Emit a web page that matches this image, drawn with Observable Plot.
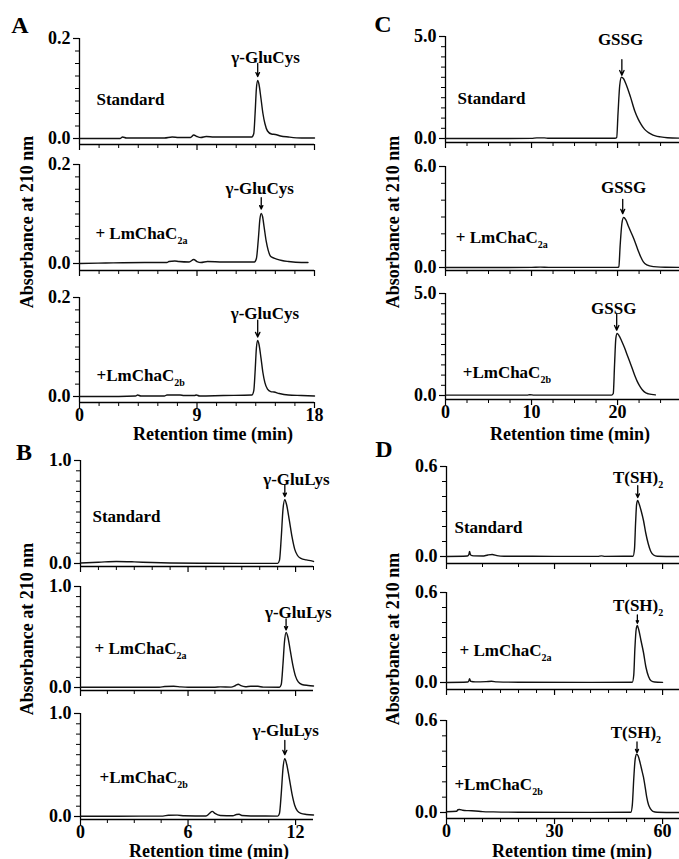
<!DOCTYPE html>
<html><head><meta charset="utf-8">
<script src="https://cdn.jsdelivr.net/npm/d3@7"></script>
<script src="https://cdn.jsdelivr.net/npm/@observablehq/plot@0.6"></script>
<style>
html,body{margin:0;padding:0;background:#fff;}
#fig{position:relative;width:679px;height:859px;overflow:hidden;font-family:"Liberation Serif","Times New Roman",serif;font-weight:bold;color:#000;}
.sub{position:absolute;}
.lbl{position:absolute;white-space:nowrap;line-height:0.9;}
</style></head><body><div id="fig"></div>
<script>
// ---------------- DATA ----------------
const panelNames = ["A", "B", "C", "D"];
const sampleNames = ["Standard", "+ LmChaC_{2a}", "+LmChaC_{2b}"];
const peakNames = {A: "γ-GluCys", B: "γ-GluLys", C: "GSSG", D: "T(SH)_{2}"};
const yTitle = "Absorbance at 210 nm";
const xTitle = "Retention time (min)";

// x-domain max (min) per panel, y-domain max per sub-chart
const xMax = {A: 18, B: 13, C: 27.2, D: 64.7};
const yMaxA = [0.2, 0.2, 0.2];
const yMaxB = [1.0, 1.0, 1.0];
const yMaxC = [5.0, 6.0, 5.0];
const yMaxD = [0.6, 0.6, 0.6];

// tick values
const xMajorA = [0, 9, 18];
const xMinorA = [1.5, 3, 4.5, 6, 7.5, 10.5, 12, 13.5, 15, 16.5];
const xMajorB = [0, 6, 12];
const xMinorB1 = [1, 2, 3, 4, 5, 7, 8, 9, 10, 11, 13];
const xMinorB = [1.5, 3, 4.5, 7.5, 9, 10.5];
const xMajorC = [0, 10, 20];
const xMinorC = [2.5, 5, 7.5, 12.5, 15, 17.5, 22.5, 25];
const xMajorD = [0, 30, 60];
const xMinorD1 = [10, 20, 40, 50];
const xMinorD = [5, 10, 15, 20, 25, 35, 40, 45, 50, 55];
const yMinorA = [0.025, 0.05, 0.075, 0.1, 0.125, 0.15, 0.175];
const yMinorB = [0.1, 0.2, 0.3, 0.4, 0.5, 0.6, 0.7, 0.8, 0.9];
const yMinorC5 = [0.5, 1.0, 1.5, 2.0, 2.5, 3.0, 3.5, 4.0, 4.5];
const yMinorC6 = [1, 2, 3, 4, 5];
const yMinorD = [0.1, 0.2, 0.3, 0.4, 0.5];

// chromatogram traces [time (min), absorbance]
const traceA1 = [[0,0],[3.1,0],[3.3,0.003],[3.6,0.001],[5,0.001],[6.5,0.001],[7.1,0.003],[7.6,0.002],[8.5,0.002],[8.75,0.007],[9.0,0.004],[9.3,0.002],[9.7,0.004],[10.3,0.003],[12,0.003],[13.2,0.003],[13.35,0.01],[13.45,0.05],[13.55,0.1],[13.65,0.116],[13.75,0.108],[13.9,0.08],[14.05,0.05],[14.2,0.03],[14.4,0.015],[14.7,0.009],[15,0.008],[15.4,0.005],[16,0.003],[17,0.001],[18,0.001]];
const traceA2 = [[0,0],[2,0.001],[5,0.002],[6.7,0.002],[6.85,0.004],[7.3,0.005],[7.6,0.004],[8.4,0.003],[8.75,0.008],[9.0,0.004],[9.3,0.002],[9.8,0.004],[11,0.003],[13.4,0.003],[13.55,0.01],[13.7,0.05],[13.82,0.09],[13.92,0.101],[14.02,0.095],[14.15,0.072],[14.3,0.045],[14.45,0.027],[14.65,0.014],[14.9,0.011],[15.1,0.009],[15.5,0.006],[16,0.004],[17,0.002],[17.5,0.002]];
const traceA3 = [[0,0],[3,0],[4.3,0.001],[4.45,0.003],[4.7,0.001],[6.5,0.001],[6.7,0.003],[7.7,0.003],[8,0.002],[8.8,0.002],[8.95,0.003],[9.2,0.001],[11,0.002],[13.2,0.003],[13.35,0.012],[13.45,0.05],[13.55,0.098],[13.65,0.113],[13.75,0.105],[13.9,0.078],[14.05,0.048],[14.2,0.028],[14.4,0.015],[14.65,0.01],[14.9,0.009],[15.3,0.006],[16,0.003],[17,0.002],[18,0.001]];

const traceB1 = [[0,0.005],[1,0.012],[2,0.02],[3,0.016],[4,0.009],[5,0.005],[7,0.002],[9,0.001],[11.0,0.001],[11.1,0.03],[11.2,0.25],[11.3,0.53],[11.4,0.62],[11.5,0.57],[11.65,0.42],[11.8,0.26],[11.95,0.14],[12.1,0.08],[12.3,0.05],[12.6,0.035],[12.9,0.025],[13.0,0.02]];
const traceB2 = [[0,0.002],[2,0.003],[4.4,0.003],[4.7,0.01],[5.2,0.012],[5.6,0.006],[6,0.003],[7.5,0.003],[7.8,0.006],[8.4,0.004],[8.65,0.02],[8.8,0.032],[8.95,0.018],[9.2,0.008],[9.5,0.013],[9.9,0.012],[10.2,0.004],[11.1,0.003],[11.2,0.03],[11.3,0.24],[11.38,0.45],[11.47,0.545],[11.57,0.5],[11.7,0.37],[11.85,0.22],[12.0,0.11],[12.15,0.055],[12.35,0.03],[12.7,0.02],[13.0,0.015]];
const traceB3 = [[0,0.002],[2,0.003],[4.6,0.004],[4.9,0.012],[5.4,0.013],[5.8,0.007],[7,0.005],[7.2,0.03],[7.35,0.05],[7.5,0.03],[7.8,0.01],[8.5,0.008],[8.7,0.02],[8.85,0.022],[9.0,0.01],[9.5,0.005],[11.0,0.004],[11.1,0.03],[11.2,0.22],[11.3,0.47],[11.4,0.56],[11.5,0.51],[11.65,0.37],[11.8,0.22],[11.95,0.11],[12.1,0.055],[12.3,0.03],[12.6,0.02],[13.0,0.015]];

const traceC1 = [[0,0],[10,0.005],[10.6,0.03],[11.5,0.03],[12,0.01],[19.7,0.01],[19.9,0.05],[20.05,1.2],[20.25,2.6],[20.45,3.0],[20.7,2.93],[21.0,2.65],[21.5,2.04],[22.0,1.35],[22.4,0.95],[22.7,0.72],[23.1,0.47],[23.5,0.32],[23.85,0.23],[24.4,0.13],[25,0.08],[25.8,0.04],[27.2,0.02]];
const traceC2 = [[0,0],[10,0.005],[11,0.02],[12,0.01],[20.0,0.01],[20.15,0.05],[20.3,1.3],[20.5,2.6],[20.7,2.97],[20.95,2.85],[21.3,2.4],[21.9,1.7],[22.4,1.0],[22.7,0.62],[23.0,0.33],[23.4,0.16],[24.2,0.05],[25,0.02],[27.2,0.01]];
const traceC3 = [[0,0.02],[9.5,0.02],[9.8,0.04],[10.3,0.02],[19.3,0.02],[19.5,0.1],[19.65,1.5],[19.8,2.8],[19.95,3.04],[20.15,2.95],[20.45,2.7],[20.8,2.35],[21.2,1.9],[21.6,1.45],[22.0,0.98],[22.3,0.68],[22.6,0.45],[22.9,0.27],[23.2,0.15],[23.6,0.08],[24.4,0.03]];

const traceD1 = [[0,0],[5.8,0.003],[6.2,0.012],[6.4,0.033],[6.7,0.01],[7.5,0.004],[10,0.003],[11.5,0.01],[12.7,0.013],[14,0.006],[16,0.002],[30,0.001],[42,0.001],[43,0.004],[44,0.001],[51.8,0.002],[52.2,0.05],[52.5,0.22],[52.8,0.35],[53.1,0.373],[53.5,0.35],[54.1,0.3],[54.7,0.24],[55.3,0.16],[56,0.087],[56.7,0.035],[57.5,0.01],[58.5,0.002],[64.7,0]];
const traceD2 = [[0,0],[5.9,0.003],[6.2,0.01],[6.4,0.025],[6.7,0.008],[8,0.004],[11,0.006],[12.5,0.008],[14,0.004],[20,0.002],[40,0.001],[51.6,0.002],[52.0,0.05],[52.3,0.22],[52.7,0.36],[53.0,0.38],[53.4,0.35],[54.0,0.28],[54.7,0.2],[55.4,0.1],[56.1,0.04],[56.8,0.012],[57.8,0.003],[60,0.001]];
const traceD3 = [[0,0.005],[2.8,0.008],[3.2,0.018],[3.6,0.02],[4.5,0.015],[6,0.012],[8,0.01],[10,0.006],[13,0.004],[20,0.002],[40,0.001],[51.2,0.002],[51.6,0.05],[52.0,0.22],[52.4,0.35],[52.8,0.38],[53.2,0.37],[53.8,0.32],[54.3,0.27],[54.7,0.23],[55.2,0.16],[55.6,0.1],[56.1,0.05],[56.6,0.025],[57.3,0.008],[58.5,0.002],[64.7,0]];

// annotation anchors in data units: peak label (lx, ly), arrow (ax, ay1 -> ay2), sample label (sx, sy)
const annoA = [
  {lx: 14.25, ly: 0.162, ax: 13.65, ay1: 0.15, ay2: 0.124, sx: 1.3, sy: 0.078},
  {lx: 13.8, ly: 0.151, ax: 13.92, ay1: 0.133, ay2: 0.11, sx: 1.22, sy: 0.06},
  {lx: 14.2, ly: 0.168, ax: 13.65, ay1: 0.154, ay2: 0.12, sx: 1.3, sy: 0.042}
];
const annoB = [
  {lx: 12.05, ly: 0.815, ax: 11.4, ay1: 0.76, ay2: 0.65, sx: 0.67, sy: 0.456},
  {lx: 12.15, ly: 0.74, ax: 11.47, ay1: 0.68, ay2: 0.57, sx: 0.78, sy: 0.386},
  {lx: 11.45, ly: 0.835, ax: 11.4, ay1: 0.74, ay2: 0.6, sx: 1.06, sy: 0.38}
];
const annoC = [
  {lx: 20.35, ly: 4.85, ax: 20.5, ay1: 3.87, ay2: 3.1, sx: 1.4, sy: 1.96},
  {lx: 20.7, ly: 4.76, ax: 20.6, ay1: 4.05, ay2: 3.2, sx: 1.2, sy: 1.79},
  {lx: 19.55, ly: 4.26, ax: 19.9, ay1: 4.0, ay2: 3.2, sx: 2.0, sy: 1.13}
];
const annoD = [
  {lx: 53.2, ly: 0.527, ax: 53.1, ay1: 0.473, ay2: 0.393, sx: 2.2, sy: 0.193},
  {lx: 53.2, ly: 0.513, ax: 53.0, ay1: 0.45, ay2: 0.395, sx: 3.6, sy: 0.213},
  {lx: 52.6, ly: 0.52, ax: 52.9, ay1: 0.46, ay2: 0.39, sx: 2.2, sy: 0.183}
];

// ---------------- LAYOUT ----------------
const layout = {
  A: {panelX: 0, panelW: 340, left: 79, right: 314, subs: [{top: 38, zero: 138, axis: 144}, {top: 164, zero: 263, axis: 270}, {top: 297, zero: 396, axis: 402}]},
  B: {panelX: 0, panelW: 340, left: 80, right: 313, subs: [{top: 460, zero: 563, axis: 566}, {top: 586, zero: 687, axis: 690}, {top: 713, zero: 816, axis: 819}]},
  C: {panelX: 340, panelW: 339, left: 445, right: 679, subs: [{top: 36, zero: 138, axis: 142}, {top: 166, zero: 267, axis: 270}, {top: 293, zero: 395, axis: 399}]},
  D: {panelX: 340, panelW: 339, left: 446, right: 679, subs: [{top: 466, zero: 556, axis: 563}, {top: 592, zero: 682, axis: 689}, {top: 720, zero: 812, axis: 818}]}
};
const traces = {A: [traceA1, traceA2, traceA3], B: [traceB1, traceB2, traceB3], C: [traceC1, traceC2, traceC3], D: [traceD1, traceD2, traceD3]};
const yMax = {A: yMaxA, B: yMaxB, C: yMaxC, D: yMaxD};
const annos = {A: annoA, B: annoB, C: annoC, D: annoD};
const xMajor = {A: xMajorA, B: xMajorB, C: xMajorC, D: xMajorD};
const xMinor = {A: [xMinorA, xMinorA, xMinorA], B: [xMinorB1, xMinorB, xMinorB], C: [xMinorC, xMinorC, xMinorC], D: [xMinorD1, xMinorD, xMinorD]};
const yMinor = {A: [yMinorA, yMinorA, yMinorA], B: [yMinorB, yMinorB, yMinorB], C: [yMinorC5, yMinorC6, yMinorC5], D: [yMinorD, yMinorD, yMinorD]};

const FONT = '"Liberation Serif","Times New Roman",serif';
const fig = document.getElementById("fig");

function subscriptify(svg) {
  svg.querySelectorAll("text").forEach(t => {
    const s = t.textContent;
    const i = s.indexOf("_{");
    if (i < 0) return;
    const main = s.slice(0, i), sub = s.slice(i + 2, s.indexOf("}", i));
    t.textContent = main;
    const ts = document.createElementNS("http://www.w3.org/2000/svg", "tspan");
    ts.setAttribute("font-size", "10");
    ts.setAttribute("dy", "5");
    ts.textContent = sub;
    t.appendChild(ts);
  });
}

function addLabel(text, cx, cy, size, vertical) {
  const d = document.createElement("div");
  d.className = "lbl";
  d.textContent = text;
  d.style.left = cx + "px";
  d.style.top = cy + "px";
  d.style.fontSize = size + "px";
  d.style.transform = "translate(-50%,-50%)" + (vertical ? " rotate(-90deg)" : "");
  fig.appendChild(d);
}

for (const p of panelNames) {
  const L = layout[p];
  for (let i = 0; i < 3; i++) {
    const S = L.subs[i];
    const ymax = yMax[p][i];
    const ymin = -ymax * (S.axis - S.zero) / (S.zero - S.top);
    const isBottom = i === 2;
    const mt = 14, mb = isBottom ? 26 : 8;
    const W = L.panelW, H = (S.axis - S.top) + mt + mb;
    const a = annos[p][i];
    const xm = xMax[p];
    const plot = Plot.plot({
      width: W, height: H,
      marginLeft: L.left - L.panelX, marginRight: L.panelX + W - L.right,
      marginTop: mt, marginBottom: mb,
      x: {domain: [0, xm], axis: null, label: null},
      y: {domain: [ymin, ymax], axis: null, label: null},
      style: {background: "transparent", overflow: "visible", fontFamily: FONT, fontWeight: "bold", fontSize: "18px", color: "#000"},
      marks: [
        Plot.axisY(yMinor[p][i], {tickSize: 4, tickFormat: () => "", label: null, strokeWidth: 1}),
        Plot.axisY([0, ymax], {tickSize: 6, tickPadding: 3, tickFormat: d => d.toFixed(1), label: null, strokeWidth: 1.2, fontSize: 18, fontWeight: "bold", fontFamily: FONT}),
        Plot.axisX(xMinor[p][i], {tickSize: 4, tickFormat: () => "", label: null, strokeWidth: 1}),
        Plot.axisX(xMajor[p], {tickSize: 6, tickPadding: 0, tickFormat: isBottom ? (d => String(d)) : (() => ""), label: null, strokeWidth: 1.2, fontSize: 18, fontWeight: "bold", fontFamily: FONT}),
        Plot.ruleX([0], {y1: ymin, y2: ymax, strokeWidth: 1.3}),
        Plot.ruleY([ymin], {x1: 0, x2: xm, strokeWidth: 1.3}),
        Plot.line(traces[p][i], {x: d => d[0], y: d => d[1], curve: "monotone-x", stroke: "#111", strokeWidth: 1.4}),
        Plot.text([a], {x: "lx", y: "ly", text: () => peakNames[p], fontSize: 17, fontWeight: "bold", fontFamily: FONT, fill: "#000"}),
        Plot.arrow([a], {x1: "ax", x2: "ax", y1: "ay1", y2: "ay2", headLength: 6, headAngle: 50, strokeWidth: 1.3, stroke: "#000"}),
        Plot.text([a], {x: "sx", y: "sy", text: () => sampleNames[i], textAnchor: "start", fontSize: 17, fontWeight: "bold", fontFamily: FONT, fill: "#000"})
      ]
    });
    subscriptify(plot);
    const wrap = document.createElement("div");
    wrap.className = "sub";
    wrap.style.left = L.panelX + "px";
    wrap.style.top = (S.top - mt) + "px";
    wrap.style.width = W + "px";
    wrap.style.height = H + "px";
    wrap.appendChild(plot);
    fig.appendChild(wrap);
  }
}

// panel letters and axis titles
addLabel("A", 20, 26, 24);
addLabel("C", 383, 25, 24);
addLabel("B", 24, 453, 24);
addLabel("D", 384, 450, 24);
addLabel(yTitle, 27, 222, 18, true);
addLabel(yTitle, 393, 222, 18, true);
addLabel(yTitle, 27, 629, 18, true);
addLabel(yTitle, 393, 639, 18, true);
addLabel(xTitle, 213, 434, 18);
addLabel(xTitle, 570, 434, 18);
addLabel(xTitle, 209, 850.5, 18);
addLabel(xTitle, 572, 850.5, 18);
</script></body></html>
